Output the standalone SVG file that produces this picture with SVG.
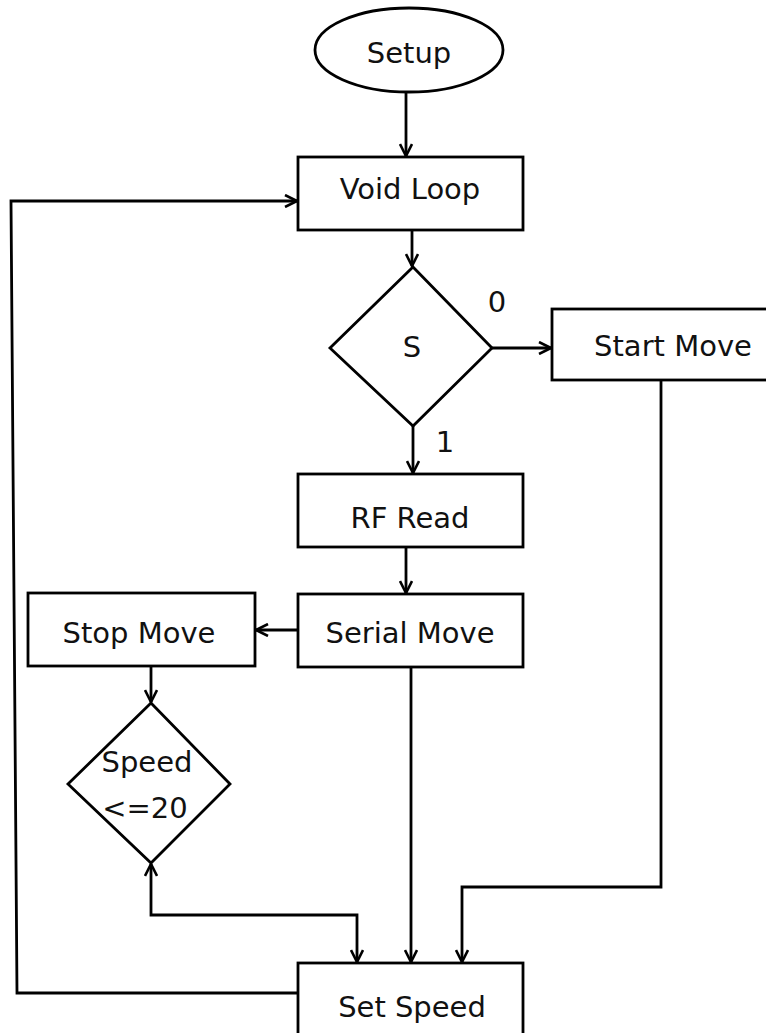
<svg xmlns="http://www.w3.org/2000/svg" width="766" height="1033" viewBox="0 0 766 1033">
  <style>
    .shape { fill: #ffffff; stroke: #000000; stroke-width: 2.8; }
    .line { fill: none; stroke: #000000; stroke-width: 2.8; stroke-linejoin: miter; }
    .label { font-family: "DejaVu Sans", Verdana, sans-serif; font-size: 29px; fill: #111111; text-anchor: middle; }
  </style>
  <defs>
    <marker id="arrow" markerUnits="userSpaceOnUse" viewBox="0 0 14 14" markerWidth="14" markerHeight="14" refX="13" refY="7" orient="auto-start-reverse">
      <path d="M1,1 L13,7 L1,13" fill="none" stroke="#000000" stroke-width="2.6"/>
    </marker>
  </defs>
  <rect width="766" height="1033" fill="#ffffff"/>

  <!-- connectors -->
  <g id="connectors">
    <line class="line" x1="406" y1="92" x2="406" y2="156" marker-end="url(#arrow)"/>
    <line class="line" x1="412" y1="230" x2="412" y2="266" marker-end="url(#arrow)"/>
    <line class="line" x1="492" y1="348" x2="551" y2="348" marker-end="url(#arrow)"/>
    <line class="line" x1="413" y1="426" x2="413" y2="473" marker-end="url(#arrow)"/>
    <line class="line" x1="406" y1="547" x2="406" y2="593" marker-end="url(#arrow)"/>
    <line class="line" x1="298" y1="630" x2="256" y2="630" marker-end="url(#arrow)"/>
    <line class="line" x1="151" y1="666" x2="151" y2="702" marker-end="url(#arrow)"/>
    <path class="line" d="M151,864 L151,915 L357,915 L357,962" marker-start="url(#arrow)" marker-end="url(#arrow)"/>
    <line class="line" x1="411" y1="667" x2="411" y2="962" marker-end="url(#arrow)"/>
    <path class="line" d="M661,380 L661,887 L462,887 L462,962" marker-end="url(#arrow)"/>
    <path class="line" d="M298,993 L17,993 L11,201 L297,201" marker-end="url(#arrow)"/>
  </g>

  <g id="setup">
    <ellipse class="shape" cx="409" cy="50" rx="94" ry="42"/>
    <text class="label" x="409" y="63">Setup</text>
  </g>

  <g id="void-loop">
    <rect class="shape" x="298" y="157" width="225" height="73"/>
    <text class="label" x="410" y="199">Void Loop</text>
  </g>

  <g id="decision-s">
    <polygon class="shape" points="413,267 492,348 413,426 330,348"/>
    <text class="label" x="412" y="357">S</text>
    <text class="label" x="497" y="312">0</text>
    <text class="label" x="445" y="452">1</text>
  </g>

  <g id="start-move">
    <rect class="shape" x="552" y="309" width="230" height="71"/>
    <text class="label" x="673" y="356">Start Move</text>
  </g>

  <g id="rf-read">
    <rect class="shape" x="298" y="474" width="225" height="73"/>
    <text class="label" x="410" y="528">RF Read</text>
  </g>

  <g id="serial-move">
    <rect class="shape" x="298" y="594" width="225" height="73"/>
    <text class="label" x="410" y="643">Serial Move</text>
  </g>

  <g id="stop-move">
    <rect class="shape" x="28" y="593" width="227" height="73"/>
    <text class="label" x="139" y="643">Stop Move</text>
  </g>

  <g id="speed-check">
    <polygon class="shape" points="151,703 230,784 151,863 68,784"/>
    <text class="label" x="147" y="772">Speed</text>
    <text class="label" x="145" y="818">&lt;=20</text>
  </g>

  <g id="set-speed">
    <rect class="shape" x="298" y="963" width="225" height="80"/>
    <text class="label" x="412" y="1017">Set Speed</text>
  </g>
</svg>
